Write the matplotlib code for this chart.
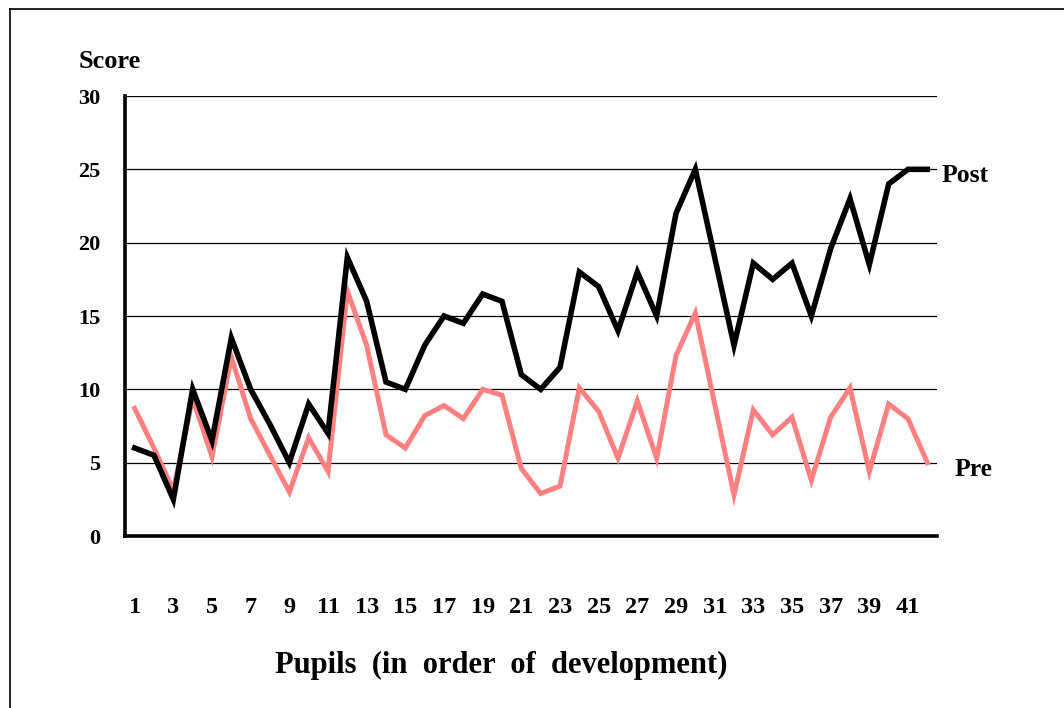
import matplotlib
matplotlib.use("Agg")
import matplotlib.pyplot as plt
from matplotlib.lines import Line2D

pupils = list(range(1, 43))
post = [6, 5.5, 2.5, 10, 6.5, 13.5, 10, 7.6, 5, 9, 7, 19, 16, 10.5, 10, 13, 15, 14.5, 16.5, 16,
        11, 10, 11.5, 18, 17, 14, 18, 15, 22, 25, 19, 13, 18.6, 17.5, 18.6, 15, 19.6, 23, 18.5, 24,
        25, 25]
pre = [8.7, 6, 3.1, 9.4, 5.4, 12.2, 8, 5.5, 3, 6.7, 4.4, 16.7, 13, 6.9, 6, 8.2, 8.9, 8, 10, 9.6,
       4.6, 2.9, 3.4, 10.1, 8.5, 5.3, 9.2, 5.3, 12.3, 15.2, 9, 2.8, 8.6, 6.9, 8.1, 3.8, 8.1, 10.1, 4.4, 9,
       8, 5]
xtick_labels = [str(i) for i in range(1, 42, 2)]
yticks = [0, 5, 10, 15, 20, 25, 30]

W, H = 1064, 708
fig = plt.figure(figsize=(W / 100, H / 100), dpi=100)
serif = ["Liberation Serif", "DejaVu Serif"]

ax = fig.add_axes([125 / W, 1 - 536 / H, (937 - 125) / W, (536 - 96) / H])
ax.set_xlim(0.5, 42.5)
ax.set_ylim(0, 30)

for y in yticks[1:]:
    ax.axhline(y, color="black", lw=0.9, zorder=1)

ax.plot(pupils, pre, color="#FF8080", lw=3.6, solid_joinstyle="miter", zorder=2)
ax.plot(pupils, post, color="black", lw=4.0, solid_joinstyle="miter", zorder=3)

for s in ["top", "right"]:
    ax.spines[s].set_visible(False)
ax.spines["left"].set_linewidth(2.6)
ax.spines["bottom"].set_linewidth(2.6)

ax.set_xticks(list(range(1, 42, 2)))
ax.set_xticklabels(xtick_labels, fontfamily=serif, fontweight="bold", fontsize=17.5)
ax.set_yticks(yticks)
ax.set_yticklabels([str(y) for y in yticks], fontfamily=serif, fontweight="bold", fontsize=16)
ax.tick_params(axis="x", length=0, pad=44)
ax.tick_params(axis="y", length=0, pad=18)

fig.text(110 / W, 1 - 62 / H, "Score", ha="center", va="center",
         fontfamily=serif, fontweight="bold", fontsize=19)
fig.text(501 / W, 1 - 665 / H, "Pupils  (in  order  of  development)", ha="center", va="center",
         fontfamily=serif, fontweight="bold", fontsize=22)
fig.text(942 / W, 1 - 176 / H, "Post", ha="left", va="center",
         fontfamily=serif, fontweight="bold", fontsize=18.5)
fig.text(955 / W, 1 - 469 / H, "Pre", ha="left", va="center",
         fontfamily=serif, fontweight="bold", fontsize=18.5)

# outer frame (top and left only visible)
fig.add_artist(Line2D([9.5 / W, 9.5 / W], [0, 1 - 9 / H], transform=fig.transFigure, color="black", lw=1.2))
fig.add_artist(Line2D([9.5 / W, 1], [1 - 9 / H, 1 - 9 / H], transform=fig.transFigure, color="black", lw=1.2))

fig.savefig("out.png", dpi=100)
